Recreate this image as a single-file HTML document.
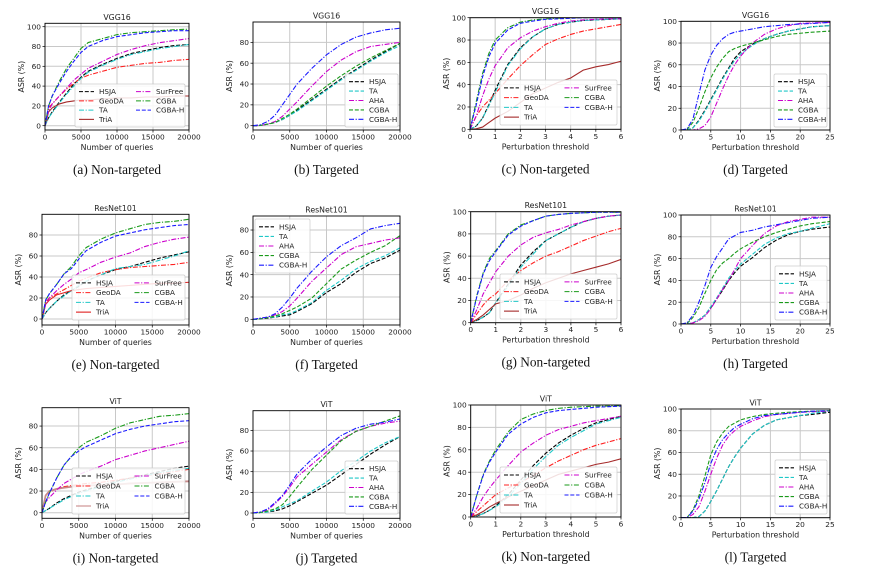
<!DOCTYPE html>
<html><head><meta charset="utf-8"><style>
html,body{margin:0;padding:0;background:#fff;}
svg{display:block;}
.tick{font-family:"DejaVu Sans","Liberation Sans",sans-serif;font-size:7.4px;fill:#222;}
.lab{font-family:"DejaVu Sans","Liberation Sans",sans-serif;font-size:7.8px;fill:#222;}
.leg{font-family:"DejaVu Sans","Liberation Sans",sans-serif;font-size:7.2px;fill:#222;}
.cap{font-family:"Liberation Serif",serif;font-size:13.3px;fill:#111;}
</style></head><body>
<svg id="fig" width="890" height="579" viewBox="0 0 890 579" xmlns="http://www.w3.org/2000/svg"></svg>
<script>
// ---- x grids ----
const xQ = [0,500,1000,2000,3000,4000,5000,6000,8000,10000,12000,14000,16000,18000,20000];
const xP6 = [0,0.25,0.5,0.75,1,1.5,2,2.5,3,3.5,4,4.5,5,5.5,6];
const xP25 = [0,1,2,3,4,5,6,7,8,9,10,12,14,16,18,20,22,25];
const qTicks = [0,5000,10000,15000,20000];
const p6Ticks = [0,1,2,3,4,5,6];
const p25Ticks = [0,5,10,15,20,25];
const yTicks100 = [0,20,40,60,80,100];
const yTicks80 = [0,20,40,60,80];
// ---- (a) VGG16 non-targeted ----
const aHSJA=[0,8,14,24,33,42,49,55,62,68,73,76,79,81,82];
const aGeoDA=[0,18,22,30,37,43,48,51,55,59,61,63,64,66,67];
const aTA=[0,8,13,23,32,40,48,54,61,67,72,75,78,80,82];
const aTriA=[0,14,18,22,24,25,26,26,27,28,28,29,29,30,30];
const aSurFree=[0,15,22,30,38,46,52,58,65,72,77,81,84,86,88];
const aCGBA=[0,20,30,45,58,68,78,84,88,92,94,95,96,97,97.5];
const aCGBAH=[0,20,30,43,55,65,74,80,86,90,92,94,95,96,96];
// ---- (b) VGG16 targeted ----
const bHSJA=[0,0,0.3,1.5,3,6,10,15,25,35,45,54,63,71,79];
const bTA=[0,0,0.3,1.5,3,6,10,14,24,34,44,53,62,70,77];
const bAHA=[0,0,0.3,1.5,4,9,16,23,38,52,63,71,76,78,80];
const bCGBA=[0,0,0.3,1.5,3,7,11,16,27,38,48,57,65,72,79];
const bCGBAH=[0,0.5,1,4,10,20,30,40,55,68,78,85,89,92,93.5];
// ---- (c) ----
const cHSJA=[0,3,10,22,35,58,73,83,90,94,96,97.5,98,98.5,99];
const cGeoDA=[0,12,20,26,32,45,57,67,76,81,85,88,90,92,94];
const cTA=[0,3,10,21,33,57,72,83,90,94,96,97.5,98,98.5,99];
const cTriA=[0,0.5,2,6,10,16,24,32,37,42,46,53,56,58,61];
const cSurFree=[0,12,30,45,57,73,82,88,92,95,97,98,98.5,99,99];
const cCGBA=[0,25,50,68,80,91,96,98,99,99.5,100,100,100,100,100];
const cCGBAH=[0,22,47,65,77,89,95,97,98.5,99,99.5,100,100,100,100];
// ---- (d) ----
const dHSJA=[0,0,2,9,18,28,38,48,57,66,72,79,84,88,91,93,95,96];
const dTA=[0,0,2,8,17,27,37,47,56,64,70,78,84,88,91,93,95,96];
const dAHA=[0,0,0,1,4,12,25,38,50,60,68,80,88,93,96,98,98.5,99];
const dCGBA=[0,0.5,7,20,35,48,58,66,72,75,77,80,83,86,88,89,90,91];
const dCGBAH=[0,1,10,33,55,69,78,84,88,90,91,93,95,96,97,97.5,98,99];
// ---- (e) ----
const eHSJA=[0,6,10,17,23,27,31,36,42,47,50,54,58,61,64];
const eGeoDA=[0,16,20,24,28,32,36,39,44,47,49,50,51,52,54];
const eTA=[0,6,10,17,22,27,32,36,42,48,50,52,56,60,65];
const eTriA=[0,14,18,23,25,27,28,29,30,31,32,33,34,34,35];
const eSurFree=[0,14,20,27,33,38,44,47,54,59,63,69,73,76,78];
const eCGBA=[0,18,24,33,43,50,60,68,76,82,86,90,92,93,95];
const eCGBAH=[0,18,24,33,43,48,57,65,73,79,82,85,87,89,90];
// ---- (f) ----
const fHSJA=[0,0,0.5,1,2,3,4,7,14,24,32,42,50,55,62];
const fTA=[0,0,0.5,1.5,2,4,5,8,15,26,35,45,52,57,64];
const fAHA=[0,0.5,1,2,4,7,12,19,34,46,58,65,68,71,73];
const fCGBA=[0,0,0.5,1.5,3,5,8,11,19,32,45,53,60,66,75];
const fCGBAH=[0,0.5,1,2,5,11,19,28,43,56,66,73,81,84,86];
// ---- (g) ----
const gHSJA=[0,2,5,9,18,35,52,64,74,80,86,91,94,96,97];
const gGeoDA=[0,8,16,22,26,38,47,54,60,64,69,74,78,82,85];
const gTA=[0,2,5,9,18,33,50,62,74,80,86,91,94,96,97];
const gTriA=[0,3,7,12,17,20,25,31,36,40,44,47,50,53,57];
const gSurFree=[0,12,26,36,46,60,70,77,81,84,88,91,94,96,97];
const gCGBA=[0,25,45,58,65,80,88,92,96,97.5,98.5,99,99.5,99.5,99.5];
const gCGBAH=[0,24,44,56,64,79,87,92,96,97.5,98.5,99,99.5,99.5,99.5];
// ---- (h) ----
const hHSJA=[0,0,1,4,8,15,23,31,40,47,53,61,70,77,82,85,87,89];
const hTA=[0,0,1,4,8,16,24,33,42,49,55,64,73,79,83,85,88,92];
const hAHA=[0,0,1,3,7,14,23,32,40,50,60,72,83,90,94,96,98,98];
const hCGBA=[0,0.5,6,15,28,40,50,56,60,65,69,75,80,84,87,90,92,94];
const hCGBAH=[0,1,8,20,35,52,62,70,78,81,84,86,89,91,93,95,97,98];
// ---- (i) ----
const iHSJA=[0,2,4,9,13,16,19,21,25,29,32,35,38,41,43];
const iGeoDA=[0,16,19,22,24,25,26,27,28,30,32,34,36,38,40];
const iTA=[0,2,4,8,12,15,18,20,24,28,31,34,37,39,41];
const iTriA=[0,16,20,22,23,24,24.5,25,25.5,26,27,27.5,28,28.5,29];
const iSurFree=[0,10,14,21,27,31,35,38,43,49,53,57,60,63,66];
const iCGBA=[0,10,18,32,44,52,60,65,71,78,83,86,89,90,91.5];
const iCGBAH=[0,10,18,32,44,52,57,61,67,73,77,80,82,84,85];
// ---- (j) ----
const jHSJA=[0,0,0.5,1,2,4,7,11,19,27,37,47,57,66,74];
const jTA=[0,0,0.5,1,3,6,9,12,21,30,41,50,60,68,74];
const jAHA=[0,0.5,1,3,9,16,25,35,47,59,71,79,84,87,89];
const jCGBA=[0,0,0.5,2,4,8,16,25,42,56,70,79,84,89,94];
const jCGBAH=[0,0.5,1,4,10,17,27,38,52,64,75,82,86,88,91];
// ---- (k) ----
const kHSJA=[0,1,3,6,10,20,33,46,57,66,73,79,84,87,90];
const kGeoDA=[0,5,10,15,20,26,31,37,44,50,55,60,64,67,70];
const kTA=[0,1,3,6,9,18,30,43,54,64,71,77,83,86,89];
const kTriA=[0,2,5,9,12,18,23,28,33,38,41,44,47,49,52];
const kSurFree=[0,8,18,26,33,46,58,66,73,78,81,84,86,88,90];
const kCGBA=[0,20,38,50,60,76,87,92,95,97,98,98.5,99,99,99.5];
const kCGBAH=[0,20,37,49,58,74,83,89,93,95,96,97,98,98.5,99];
// ---- (l) ----
const lHSJA=[0,0,0,1,6,15,25,36,47,56,64,77,85,90,92,94,95,97];
const lTA=[0,0,0,1,6,15,25,36,47,56,64,77,85,90,92,94,96,98];
const lAHA=[0,0,3,10,24,40,55,67,75,80,84,89,93,95,96,97,97.5,98];
const lCGBA=[0,0,7,20,38,58,70,78,84,87,90,93,95,96,97,97.5,98,98.5];
const lCGBAH=[0,0,6,17,32,50,63,72,78,83,86,91,94,95,96,97,98,98.5];

const NS="http://www.w3.org/2000/svg";
const svg=document.getElementById('fig');
function mk(tag,attrs,parent){const e=document.createElementNS(NS,tag);for(const k in attrs)e.setAttribute(k,attrs[k]);(parent||svg).appendChild(e);return e;}

const DASH="4,1.8", DOT="5,1.6,1.2,1.6";
const ntStyle={HSJA:['#000',DASH],GeoDA:['#ff2020',DOT],TA:['#20c8c8',DOT],TriA:['#a52a2a',null],SurFree:['#cc00cc',DOT],CGBA:['#1a9a1a',DOT],'CGBA-H':['#1a1aff',DASH]};
const tStyle={HSJA:['#000',DASH],TA:['#20c8c8',DASH],AHA:['#cc00cc',DOT],CGBA:['#1a9a1a',DASH],'CGBA-H':['#1a1aff',DOT]};

const panels=[
 {id:'a',title:'VGG16',cap:'(a) Non-targeted',x0:45,x1:189,top:23.3,bot:130,y0:125.7,ypp:0.99,xs:xQ,xmax:20000,xt:qTicks,yt:yTicks100,xl:'Number of queries',nt:true,leg:[75,84,110,43],
  series:[['HSJA',aHSJA],['GeoDA',aGeoDA],['TA',aTA],['TriA',aTriA],['SurFree',aSurFree],['CGBA',aCGBA],['CGBA-H',aCGBAH]]},
 {id:'b',title:'VGG16',cap:'(b) Targeted',x0:253,x1:400,top:22,bot:130,y0:125.7,ypp:1.042,xs:xQ,xmax:20000,xt:qTicks,yt:yTicks80,xl:'Number of queries',nt:false,leg:[345,74,53,53],
  series:[['HSJA',bHSJA],['TA',bTA],['AHA',bAHA],['CGBA',bCGBA],['CGBA-H',bCGBAH]]},
 {id:'c',title:'VGG16',cap:'(c) Non-targeted',x0:470,x1:621,top:17.7,bot:129.3,y0:129.3,ypp:1.116,xs:xP6,xmax:6,xt:p6Ticks,yt:yTicks100,xl:'Perturbation threshold',nt:true,leg:[500,80,117,45],
  series:[['HSJA',cHSJA],['GeoDA',cGeoDA],['TA',cTA],['TriA',cTriA],['SurFree',cSurFree],['CGBA',cCGBA],['CGBA-H',cCGBAH]]},
 {id:'d',title:'VGG16',cap:'(d) Targeted',x0:681,x1:830,top:21.3,bot:130,y0:130,ypp:1.087,xs:xP25,xmax:25,xt:p25Ticks,yt:yTicks100,xl:'Perturbation threshold',nt:false,leg:[774,74,53,53],
  series:[['HSJA',dHSJA],['TA',dTA],['AHA',dAHA],['CGBA',dCGBA],['CGBA-H',dCGBAH]]},
 {id:'e',title:'ResNet101',cap:'(e) Non-targeted',x0:42,x1:189,top:214.3,bot:325,y0:319,ypp:1.05,xs:xQ,xmax:20000,xt:qTicks,yt:yTicks80,xl:'Number of queries',nt:true,leg:[72,275,113,45],tria:'#e02020',
  series:[['HSJA',eHSJA],['GeoDA',eGeoDA],['TA',eTA],['TriA',eTriA],['SurFree',eSurFree],['CGBA',eCGBA],['CGBA-H',eCGBAH]]},
 {id:'f',title:'ResNet101',cap:'(f) Targeted',x0:253,x1:400,top:216,bot:325,y0:319.3,ypp:1.116,xs:xQ,xmax:20000,xt:qTicks,yt:yTicks80,xl:'Number of queries',nt:false,leg:[255,219,55,54],
  series:[['HSJA',fHSJA],['TA',fTA],['AHA',fAHA],['CGBA',fCGBA],['CGBA-H',fCGBAH]]},
 {id:'g',title:'ResNet101',cap:'(g) Non-targeted',x0:470.7,x1:621,top:211.7,bot:322.7,y0:322.7,ypp:1.11,xs:xP6,xmax:6,xt:p6Ticks,yt:yTicks100,xl:'Perturbation threshold',nt:true,leg:[500,274,117,45],
  series:[['HSJA',gHSJA],['GeoDA',gGeoDA],['TA',gTA],['TriA',gTriA],['SurFree',gSurFree],['CGBA',gCGBA],['CGBA-H',gCGBAH]]},
 {id:'h',title:'ResNet101',cap:'(h) Targeted',x0:681,x1:830,top:215,bot:324,y0:324,ypp:1.09,xs:xP25,xmax:25,xt:p25Ticks,yt:yTicks100,xl:'Perturbation threshold',nt:false,leg:[775,266,52,54],
  series:[['HSJA',hHSJA],['TA',hTA],['AHA',hAHA],['CGBA',hCGBA],['CGBA-H',hCGBAH]]},
 {id:'i',title:'ViT',cap:'(i) Non-targeted',x0:42,x1:189,top:407.7,bot:518.3,y0:512.7,ypp:1.083,xs:xQ,xmax:20000,xt:qTicks,yt:yTicks80,xl:'Number of queries',nt:true,leg:[72,468,113,46],tria:'#c98a8a',
  series:[['HSJA',iHSJA],['GeoDA',iGeoDA],['TA',iTA],['TriA',iTriA],['SurFree',iSurFree],['CGBA',iCGBA],['CGBA-H',iCGBAH]]},
 {id:'j',title:'ViT',cap:'(j) Targeted',x0:253,x1:400,top:410.7,bot:518.3,y0:513,ypp:1.033,xs:xQ,xmax:20000,xt:qTicks,yt:yTicks80,xl:'Number of queries',nt:false,leg:[345,461,53,53],
  series:[['HSJA',jHSJA],['TA',jTA],['AHA',jAHA],['CGBA',jCGBA],['CGBA-H',jCGBAH]]},
 {id:'k',title:'ViT',cap:'(k) Non-targeted',x0:470.7,x1:621,top:405,bot:517,y0:517,ypp:1.12,xs:xP6,xmax:6,xt:p6Ticks,yt:yTicks100,xl:'Perturbation threshold',nt:true,leg:[500,467,117,46],
  series:[['HSJA',kHSJA],['GeoDA',kGeoDA],['TA',kTA],['TriA',kTriA],['SurFree',kSurFree],['CGBA',kCGBA],['CGBA-H',kCGBAH]]},
 {id:'l',title:'ViT',cap:'(l) Targeted',x0:681,x1:830,top:409,bot:517.7,y0:517.7,ypp:1.087,xs:xP25,xmax:25,xt:p25Ticks,yt:yTicks100,xl:'Perturbation threshold',nt:false,leg:[775,460,52,54],
  series:[['HSJA',lHSJA],['TA',lTA],['AHA',lAHA],['CGBA',lCGBA],['CGBA-H',lCGBAH]]}
];

function fmt(v){return String(v);}

panels.forEach(p=>{
  const g=mk('g',{});
  
  
  const X=v=>p.x0+(v/p.xmax)*(p.x1-p.x0);
  const Y=v=>p.y0-v*p.ypp;
  const clipId='clip-'+p.id;
  const cp=mk('clipPath',{id:clipId},g);
  mk('rect',{x:p.x0,y:p.top,width:p.x1-p.x0,height:p.bot-p.top},cp);
  p.xt.forEach(t=>{mk('line',{x1:X(t),x2:X(t),y1:p.top,y2:p.bot,stroke:'#c8c8c8','stroke-width':1},g);});
  p.yt.forEach(t=>{mk('line',{x1:p.x0,x2:p.x1,y1:Y(t),y2:Y(t),stroke:'#c8c8c8','stroke-width':1},g);});
  const sg=mk('g',{'clip-path':'url(#'+clipId+')'},g);
  p.series.forEach(([name,vals])=>{
    const st=(p.nt?ntStyle:tStyle)[name];
    let col=st[0]; if(name==='TriA'&&p.tria) col=p.tria;
    const d=vals.map((v,i)=>(i?'L':'M')+X(p.xs[i]).toFixed(2)+','+Y(v).toFixed(2)).join('');
    const a={d:d,fill:'none',stroke:col,'stroke-width':(name==='TriA'&&p.id==='i')?1.8:1.1};
    if(st[1]) a['stroke-dasharray']=st[1];
    const path=mk('path',a,sg);
    
    
  });
  mk('rect',{x:p.x0,y:p.top,width:p.x1-p.x0,height:p.bot-p.top,fill:'none',stroke:'#000','stroke-width':0.9},g);
  p.xt.forEach(t=>{
    mk('line',{x1:X(t),x2:X(t),y1:p.bot,y2:p.bot+2.5,stroke:'#000','stroke-width':0.7},g);
    const tx=mk('text',{x:X(t),y:p.bot+9.5,'text-anchor':'middle',class:'tick'},g);tx.textContent=fmt(t);
    
    
  });
  p.yt.forEach(t=>{
    mk('line',{x1:p.x0-2.5,x2:p.x0,y1:Y(t),y2:Y(t),stroke:'#000','stroke-width':0.7},g);
    const tx=mk('text',{x:p.x0-4,y:Y(t)+2.6,'text-anchor':'end',class:'tick'},g);tx.textContent=fmt(t);
    
    
  });
  const xl=mk('text',{x:(p.x0+p.x1)/2,y:p.bot+20,'text-anchor':'middle',class:'lab'},g);xl.textContent=p.xl;
  
  
  const yc=(p.top+p.bot)/2, yx=p.x0-21;
  const yl=mk('text',{x:yx,y:yc,'text-anchor':'middle',class:'lab',transform:'rotate(-90 '+yx+' '+yc+')'},g);yl.textContent='ASR (%)';
  
  
  const ti=mk('text',{x:(p.x0+p.x1)/2,y:p.top-3.5,'text-anchor':'middle',class:'lab'},g);ti.textContent=p.title;
  
  
  const cap=mk('text',{x:(p.x0+p.x1)/2,y:p.bot+44,'text-anchor':'middle',class:'cap'},g);cap.textContent=p.cap;
  
  
  const [lx,ly,lw,lh]=p.leg;
  const lg=mk('g',{},g);
  
  
  mk('rect',{x:lx,y:ly,width:lw,height:lh,rx:1.5,fill:'#fff','fill-opacity':0.85,stroke:'#ccc','stroke-width':0.7},lg);
  const rows=p.nt?4:5, rowH=(lh-6)/rows;
  p.series.forEach(([name],i)=>{
    const col=p.nt?Math.floor(i/4):0, row=p.nt?i%4:i;
    const ex=lx+4+col*(lw/2+2), ey=ly+3+rowH*(row+0.5);
    const st=(p.nt?ntStyle:tStyle)[name];
    let c=st[0]; if(name==='TriA'&&p.tria) c=p.tria;
    const a={x1:ex,x2:ex+15,y1:ey,y2:ey,stroke:c,'stroke-width':1.1};
    if(st[1]) a['stroke-dasharray']=st[1];
    mk('line',a,lg);
    const t=mk('text',{x:ex+20,y:ey+2.5,class:'leg'},lg);t.textContent=name;
    
    
  });
});
</script>
</body></html>
